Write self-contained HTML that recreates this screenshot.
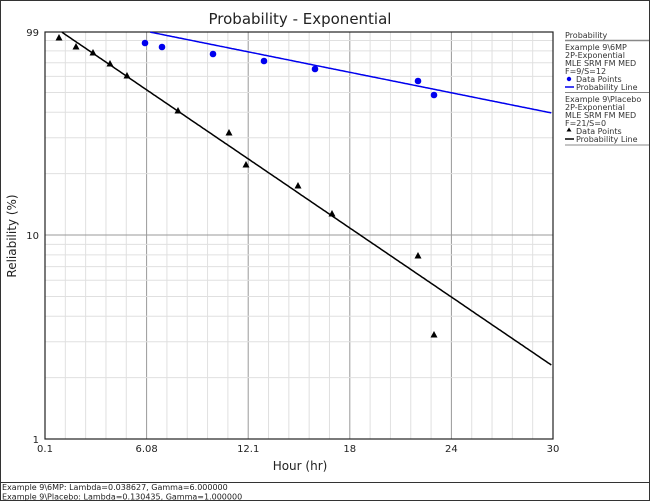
<!DOCTYPE html>
<html><head><meta charset="utf-8"><style>
body{margin:0;background:#fff;}
svg{display:block;font-family:"DejaVu Sans","Liberation Sans",sans-serif;}
</style></head><body>
<svg width="650" height="501" viewBox="0 0 650 501" xmlns="http://www.w3.org/2000/svg">
<rect x="0.5" y="0.5" width="649" height="500" fill="#fff" stroke="#333"/>
<line x1="0" y1="482.5" x2="650" y2="482.5" stroke="#333"/>
<text x="300" y="24" font-size="15" text-anchor="middle" fill="#222">Probability - Exponential</text>
<g id="grid" stroke-width="1"></g>
<rect x="45" y="32" width="508" height="407" fill="none" stroke="#222" stroke-width="1.2"/>
<g font-size="10" fill="#222">
<text x="39" y="36" text-anchor="end">99</text>
<text x="39" y="239" text-anchor="end">10</text>
<text x="39" y="443" text-anchor="end">1</text>
<text x="45" y="452" text-anchor="middle">0.1</text>
<text x="146.6" y="452" text-anchor="middle">6.08</text>
<text x="248.2" y="452" text-anchor="middle">12.1</text>
<text x="349.8" y="452" text-anchor="middle">18</text>
<text x="451.4" y="452" text-anchor="middle">24</text>
<text x="553" y="452" text-anchor="middle">30</text>
</g>
<text x="300" y="470" font-size="12" text-anchor="middle" fill="#222">Hour (hr)</text>
<text transform="translate(16,236) rotate(-90)" font-size="12" text-anchor="middle" fill="#222">Reliability (%)</text>
<g id="lines"></g>
<g font-size="8" fill="#222">
<text x="2" y="490">Example 9\6MP: Lambda=0.038627, Gamma=6.000000</text>
<text x="2" y="499.5">Example 9\Placebo: Lambda=0.130435, Gamma=1.000000</text>
</g>
<g font-size="8" fill="#333">
<text x="565" y="38">Probability</text>
<line x1="565" y1="40.5" x2="649" y2="40.5" stroke="#888" stroke-width="1.5"/>
<text x="565" y="50">Example 9\6MP</text>
<text x="565" y="58">2P-Exponential</text>
<text x="565" y="66">MLE SRM FM MED</text>
<text x="565" y="74">F=9/S=12</text>
<circle cx="569" cy="79" r="2.2" fill="#0000ee"/>
<text x="576" y="82">Data Points</text>
<line x1="565" y1="87" x2="574" y2="87" stroke="#0000ee" stroke-width="1.5"/>
<text x="576" y="90">Probability Line</text>
<line x1="565" y1="92.5" x2="649" y2="92.5" stroke="#888"/>
<text x="565" y="102">Example 9\Placebo</text>
<text x="565" y="110">2P-Exponential</text>
<text x="565" y="118">MLE SRM FM MED</text>
<text x="565" y="126">F=21/S=0</text>
<polygon points="569,127.5 571.5,131.5 566.5,131.5" fill="#000"/>
<text x="576" y="134">Data Points</text>
<line x1="565" y1="139" x2="574" y2="139" stroke="#000" stroke-width="1.5"/>
<text x="576" y="142">Probability Line</text>
<line x1="565" y1="145" x2="649" y2="145" stroke="#888"/>
</g>
<script>
(function(){
var ns="http://www.w3.org/2000/svg";
function el(p,n,a){var e=document.createElementNS(ns,n);for(var k in a)e.setAttribute(k,a[k]);p.appendChild(e);return e;}
var g=document.getElementById('grid');
var L=Math.log10(99);
function Y(p){return 439-Math.log10(p)/L*407;}
function X(t){return 45+(t-0.1)/29.9*508;}
for(var i=1;i<25;i++){var x=45+i*508/25;var maj=i%5==0;el(g,'line',{x1:x,y1:32,x2:x,y2:439,stroke:maj?'#999':'#e0e0e0'});}
var vals=[2,3,4,5,6,7,8,9,20,30,40,50,60,70,80,90];
vals.forEach(function(v){var y=Y(v);el(g,'line',{x1:45,y1:y,x2:553,y2:y,stroke:'#e0e0e0'});});
el(g,'line',{x1:45,y1:Y(10),x2:553,y2:Y(10),stroke:'#999'});
var l=document.getElementById('lines');
function curve(lam,gam,col){var pts=[];for(var t=gam;t<=30;t+=0.1){var r=100*Math.exp(-lam*(t-gam));if(r>99)continue;pts.push(X(t).toFixed(1)+','+Y(r).toFixed(1));}
el(l,'polyline',{points:pts.join(' '),fill:'none',stroke:col,'stroke-width':1.5});}
curve(0.038627,6,'#0000ee');curve(0.130435,1,'#000');
[[59,38],[76,47],[93,53],[110,64],[127,76],[178,111],[229,133],[246,165],[298,186],[332,214],[418,256],[434,335]].forEach(function(p){
el(l,'polygon',{points:p[0]+','+(p[1]-4)+' '+(p[0]+3.5)+','+(p[1]+2.5)+' '+(p[0]-3.5)+','+(p[1]+2.5),fill:'#000'});});
[[145,43],[162,47],[213,54],[264,61],[315,69],[418,81],[434,95]].forEach(function(p){
el(l,'circle',{cx:p[0],cy:p[1],r:3.3,fill:'#0000ee'});});
})();
</script>
</svg>
</body></html>
